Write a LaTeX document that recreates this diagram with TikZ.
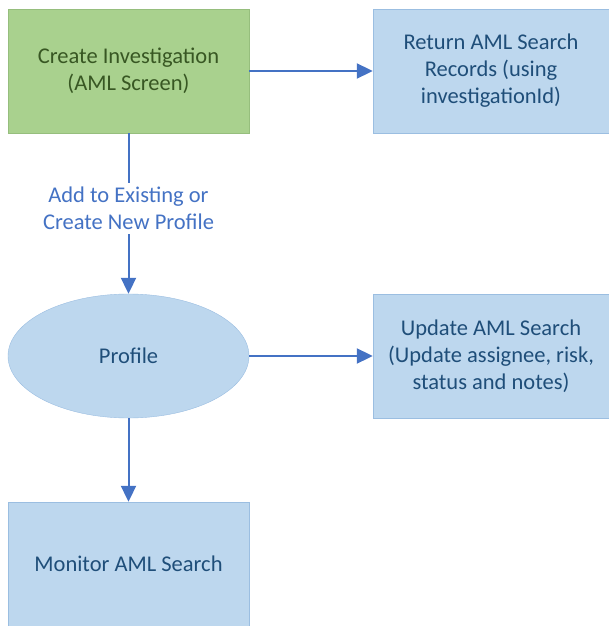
\documentclass[tikz,border=0pt]{standalone}
\usepackage{fontspec}
\setmainfont{Carlito}
\usetikzlibrary{shapes,arrows,arrows.meta,positioning,calc}
\definecolor{amlgreen}{RGB}{169,209,142}
\definecolor{amlgreenline}{RGB}{150,190,125}
\definecolor{amlgreentext}{RGB}{56,87,35}
\definecolor{amlblue}{RGB}{189,215,238}
\definecolor{amlblueline}{RGB}{155,190,225}
\definecolor{amlbluetext}{RGB}{31,78,121}
\definecolor{amlarrow}{RGB}{68,114,196}

\tikzset{
    amlbox/.style={draw=amlblueline, fill=amlblue, rectangle, minimum width=236pt, minimum height=124pt, text=amlbluetext, align=center, font=\fontsize{22.5}{27}\selectfont},
    amlflow/.style={-{Triangle[length=16pt,width=15pt]}, draw=amlarrow, line width=2pt}
}

\begin{document}
\begin{tikzpicture}[x=1pt, y=-1pt]
    \useasboundingbox (0,0) rectangle (609,626);

    % Step 1: Create investigation
    \node[amlbox, draw=amlgreenline, fill=amlgreen, text=amlgreentext, minimum width=241pt] (create) at (128.5,71) {Create Investigation\\(AML Screen)};

    % Step 1b: Return records
    \node[amlbox] (records) at (491,71) {Return AML Search\\Records (using\\investigationId)};

    % Step 2: Profile
    \node[draw=amlblueline, fill=amlblue, ellipse, minimum width=241pt, minimum height=124pt, inner sep=0pt, text=amlbluetext, font=\fontsize{22.5}{27}\selectfont] (profile) at (128.5,356) {Profile};

    % Step 2b: Update search
    \node[amlbox] (update) at (491,356) {Update AML Search\\(Update assignee, risk,\\status and notes)};

    % Step 3: Monitor
    \node[amlbox, minimum width=241pt] (monitor) at (128.5,564) {Monitor AML Search};

    % Arrows
    \draw[amlflow] (create) -- (records);
    \draw[amlflow] (create) -- node[fill=white, text=amlarrow, align=center, inner sep=4pt, yshift=5pt, font=\fontsize{22.5}{27}\selectfont] {Add to Existing or\\Create New Profile} (profile);
    \draw[amlflow] (profile) -- (update);
    \draw[amlflow] (profile) -- (monitor);
\end{tikzpicture}
\end{document}
